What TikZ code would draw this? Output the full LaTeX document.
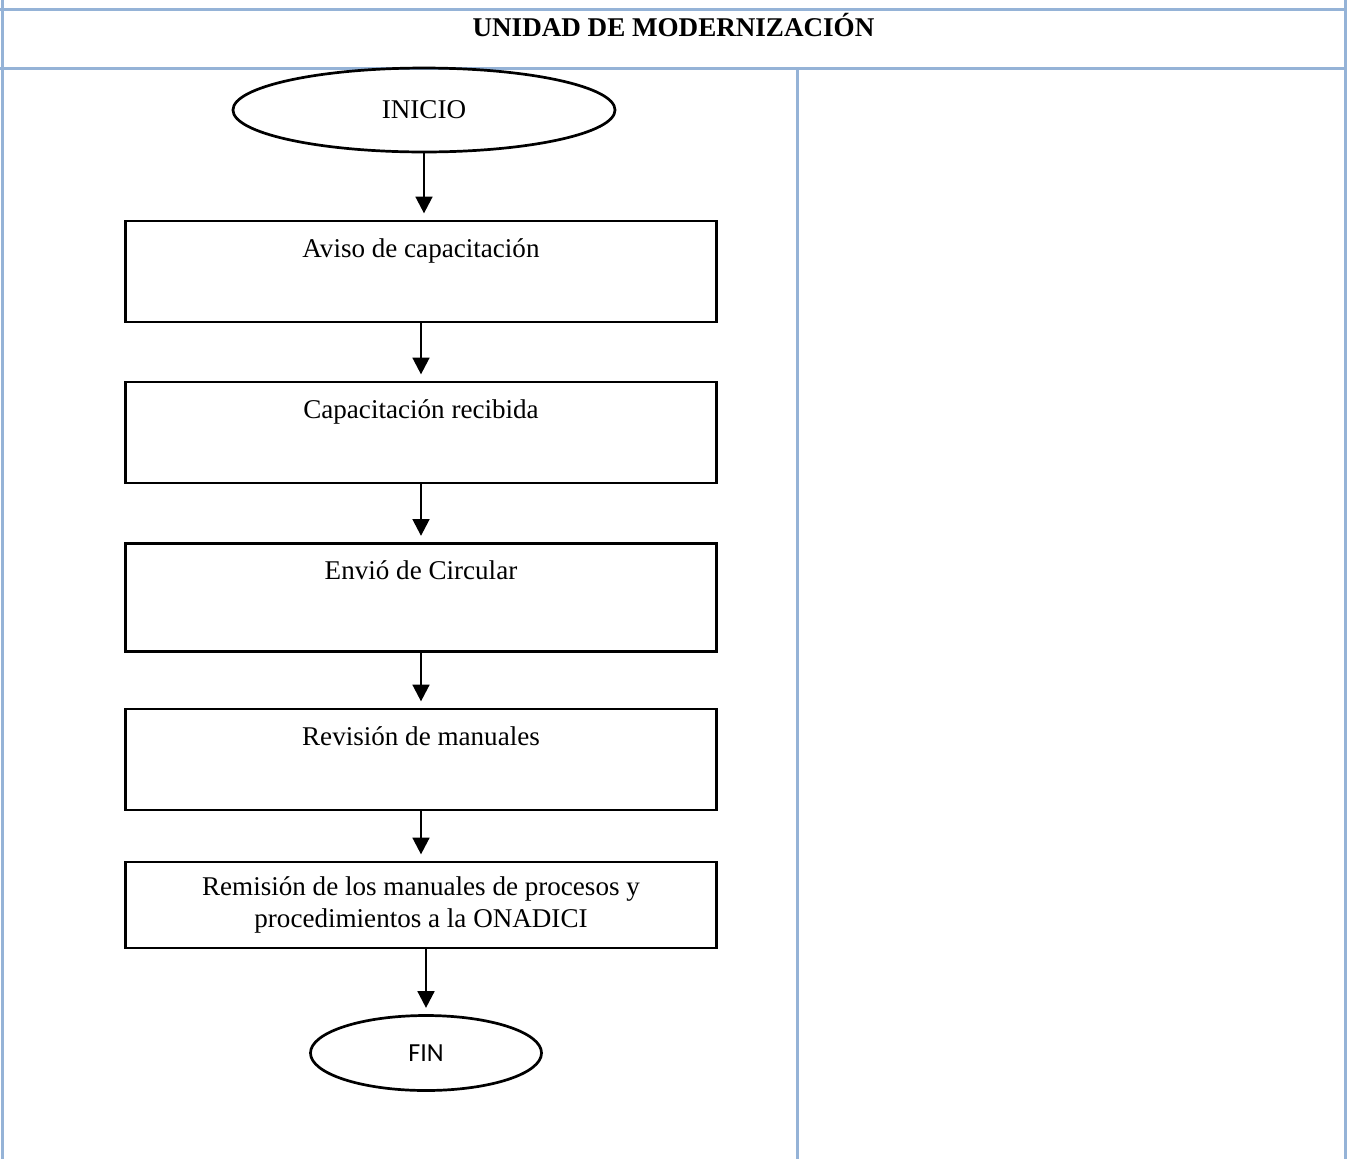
\documentclass[tikz,border=0pt]{standalone}
\usepackage{fontspec}
\setmainfont{Liberation Serif}
\newfontfamily\calibrifont{Carlito}
\usetikzlibrary{shapes.geometric,arrows.meta}
\definecolor{tabla}{HTML}{95B3D7}

\begin{document}
\begin{tikzpicture}[x=0.48pt,y=-0.48pt, font=\fontsize{13}{15}\selectfont,
    grid/.style={draw=tabla, line width=1.44pt},
    caja/.style={draw, line width=1.3pt, minimum width=283.7pt, inner xsep=2pt, inner ysep=0pt, align=center},
    paso/.style={caja, text height=17.3pt, text depth=31.2pt},
    term/.style={draw, ellipse, line width=1.3pt, inner sep=0pt},
    flecha/.style={-{Triangle[length=8pt,width=8pt]}, line width=1.2pt, shorten >=3pt}]
  \useasboundingbox (0,0) rectangle (1347,1159);
  % table
  \draw[grid] (2.5,0) -- (2.5,1159);
  \draw[grid] (1345,0) -- (1345,1159);
  \draw[grid] (0,9) -- (1347,9);
  \draw[grid] (0,68) -- (1347,68);
  \draw[grid] (797,68) -- (797,1159);
  \node[anchor=base] (titulo) at (673.5,36) {\textbf{UNIDAD DE MODERNIZACIÓN}};
  % flow
  \node[term, minimum width=183.4pt, minimum height=40.3pt] (inicio) at (424,110) {INICIO};
  \node[paso] (aviso) at (421,271.5) {Aviso de capacitación};
  \node[paso] (capac) at (421,432.5) {Capacitación recibida};
  \node[paso, text depth=34.6pt] (circ) at (421,597.5) {Envió de Circular};
  \node[paso] (rev) at (421,759.5) {Revisión de manuales};
  \node[caja, minimum height=41.3pt] (remis) at (421,905)
    {Remisión de los manuales de procesos y\\procedimientos a la ONADICI};
  \node[term, minimum width=110.9pt, minimum height=36pt, font=\calibrifont\fontsize{12.5}{14}\selectfont] (fin) at (426,1053) {FIN};
  \draw[flecha] (inicio) -- (inicio |- aviso.north);
  \draw[flecha] (aviso) -- (capac);
  \draw[flecha] (capac) -- (circ);
  \draw[flecha] (circ) -- (rev);
  \draw[flecha] (rev) -- (remis);
  \draw[flecha] (remis.south -| fin) -- (fin);
\end{tikzpicture}
\end{document}
